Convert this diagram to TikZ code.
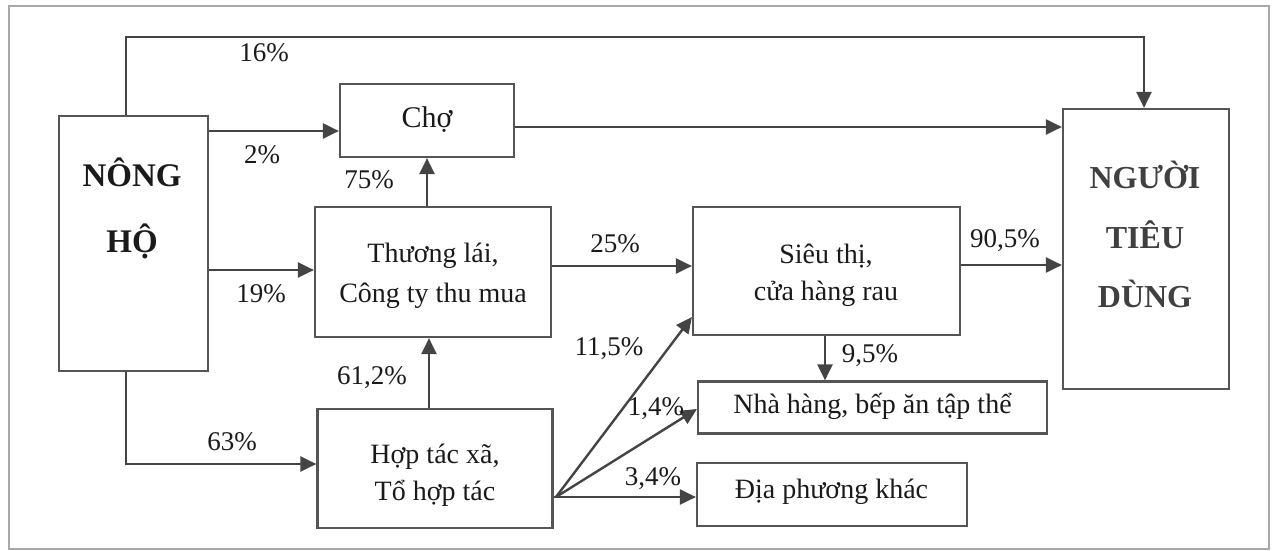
\documentclass[tikz,border=0pt]{standalone}
\usepackage{fontspec}
\setmainfont{Liberation Serif}
\usetikzlibrary{arrows.meta}
\definecolor{ln}{HTML}{444444}
\definecolor{bx}{HTML}{555555}
\definecolor{tx}{HTML}{1A1A1A}
\definecolor{gtx}{HTML}{404040}
\definecolor{fr}{HTML}{A8A8A8}
\begin{document}
\begin{tikzpicture}[x=1pt,y=-1pt,
  box/.style={draw=bx,line width=2.2pt,inner sep=0pt},
  txt/.style={text=tx,font=\fontsize{28}{34}\selectfont,inner sep=0pt,anchor=base},
  bigtxt/.style={text=tx,font=\bfseries\fontsize{33}{40}\selectfont,inner sep=0pt,anchor=base},
  arr/.style={draw=ln,line width=2.4pt,-{Triangle[length=16pt,width=15pt]}},
  pct/.style={text=tx,font=\fontsize{27}{32}\selectfont,inner sep=0pt,anchor=base}]
\useasboundingbox (0,0) rectangle (1272,551);
\draw[fr,line width=1.5pt] (9,6) rectangle (1269,549);
% boxes
\node[box,minimum width=149pt,minimum height=255pt] (nong) at (133.5,243.5) {};
\node[box,minimum width=166pt,minimum height=280pt] (nguoi) at (1146,249) {};
\node[box,minimum width=174pt,minimum height=73pt] (cho) at (427,120.5) {};
\node[box,minimum width=236pt,minimum height=130pt] (thuong) at (433,272) {};
\node[box,minimum width=267pt,minimum height=128pt] (sieu) at (826.5,271) {};
\node[box,minimum width=235pt,minimum height=119pt] (htx) at (435,468.5) {};
\node[box,minimum width=349pt,minimum height=52pt] (nha) at (872.5,407.5) {};
\node[box,minimum width=270pt,minimum height=63pt] (dia) at (832,494.5) {};
% box texts
\node[bigtxt] (nong1) at (132,186) {NÔNG};
\node[bigtxt] (nong2) at (132,252) {HỘ};
\node[bigtxt,text=gtx,font=\bfseries\fontsize{32}{40}\selectfont] (nguoi1) at (1145,188) {NGƯỜI};
\node[bigtxt,text=gtx,font=\bfseries\fontsize{32}{40}\selectfont] (nguoi2) at (1145,248) {TIÊU};
\node[bigtxt,text=gtx,font=\bfseries\fontsize{32}{40}\selectfont] (nguoi3) at (1145,307) {DÙNG};
\node[txt,font=\fontsize{30}{34}\selectfont] (cho1) at (427,128) {Chợ};
\node[txt] (thuong1) at (433,262) {Thương lái,};
\node[txt] (thuong2) at (433,302) {Công ty thu mua};
\node[txt] (sieu1) at (826,263) {Siêu thị,};
\node[txt] (sieu2) at (826,300) {cửa hàng rau};
\node[txt] (htx1) at (435,463) {Hợp tác xã,};
\node[txt] (htx2) at (435,500) {Tổ hợp tác};
\node[txt] (nha1) at (872.5,413) {Nhà hàng, bếp ăn tập thể};
\node[txt] (dia1) at (831.5,498) {Địa phương khác};
% helper coordinates
\coordinate (t1) at (126,37);
\coordinate (t2) at (1144,37);
\coordinate (b1) at (126,464);
\coordinate (y2) at (0,131);
\coordinate (yc) at (0,127);
\coordinate (y19) at (0,270);
\coordinate (y25) at (0,266);
\coordinate (y90) at (0,265);
\coordinate (x75) at (427,0);
\coordinate (x61) at (429,0);
\coordinate (x95) at (825,0);
\coordinate (src) at (556,497);
\coordinate (ys) at (0,317);
\coordinate (yn) at (0,409);
% connectors
\draw[arr] (nong.north -| t1) -- (t1) -- (t2) -- (t2 |- nguoi.north);
\draw[arr] (nong.east |- y2) -- (cho.west |- y2);
\draw[arr] (cho.east |- yc) -- (nguoi.west |- yc);
\draw[arr] (thuong.north -| x75) -- (cho.south -| x75);
\draw[arr] (nong.east |- y19) -- (thuong.west |- y19);
\draw[arr] (thuong.east |- y25) -- (sieu.west |- y25);
\draw[arr] (sieu.east |- y90) -- (nguoi.west |- y90);
\draw[arr] (sieu.south -| x95) -- (nha.north -| x95);
\draw[arr] (htx.north -| x61) -- (thuong.south -| x61);
\draw[arr] (nong.south -| b1) -- (b1) -- (htx.west |- b1);
\draw[draw=ln,line width=2.4pt] (htx.east |- src) -- (src);
\draw[arr] (src) -- (sieu.west |- ys);
\draw[arr] (src) -- (nha.west |- yn);
\draw[arr] (src) -- (dia.west |- src);
% labels
\node[pct] (l16) at (264,62) {16\%};
\node[pct] (l2) at (262,163) {2\%};
\node[pct] (l75) at (369,188) {75\%};
\node[pct] (l19) at (261,302) {19\%};
\node[pct] (l25) at (615,252) {25\%};
\node[pct] (l90) at (1005,247) {90,5\%};
\node[pct] (l95) at (870,362) {9,5\%};
\node[pct] (l61) at (372,384) {61,2\%};
\node[pct] (l63) at (232,450) {63\%};
\node[pct] (l115) at (609,355) {11,5\%};
\node[pct] (l14) at (656,415) {1,4\%};
\node[pct] (l34) at (653,485) {3,4\%};
\end{tikzpicture}
\end{document}
